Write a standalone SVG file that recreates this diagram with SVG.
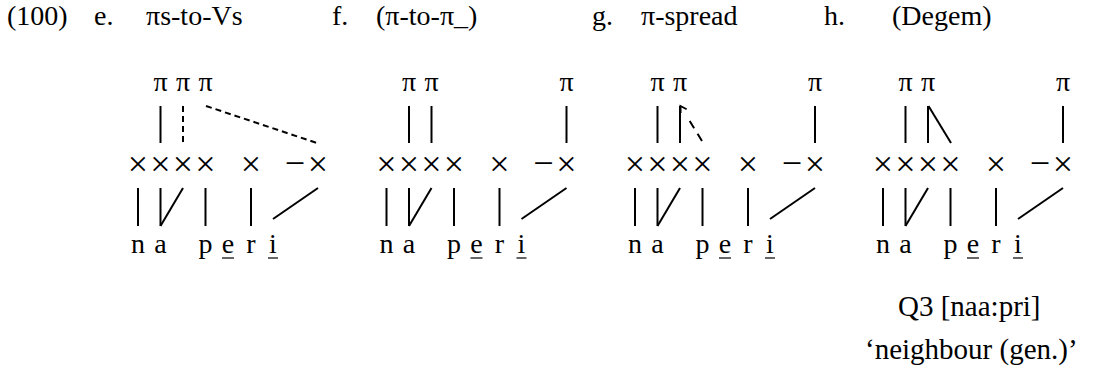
<svg xmlns="http://www.w3.org/2000/svg" width="1099" height="387" viewBox="0 0 1099 387">
<style>
  text { font-family: "Liberation Serif", "Times New Roman", serif; fill: #000; }
  .ti { font-size: 28px; }
  .gl { font-size: 29px; }
  .pi { font-size: 28px; text-anchor: middle; }
  .sg { font-size: 28px; text-anchor: middle; }
  .x { font-size: 36px; text-anchor: middle; }
  .ln { stroke: #000; stroke-width: 2; fill: none; stroke-linecap: butt; }
  .ds { stroke: #000; stroke-width: 2; fill: none; stroke-dasharray: 6 4; }
  .ul { stroke: #000; stroke-width: 1.2; }
</style>
<defs>
  <marker id="arr" viewBox="-8 -5 10 10" markerWidth="10" markerHeight="10" refX="0" refY="0" orient="auto" markerUnits="userSpaceOnUse">
    <path d="M-6,-3.5 L0,0 L-6,3.5" fill="none" stroke="#000" stroke-width="1.8"/>
  </marker>
</defs>
<rect width="1099" height="387" fill="#fff"/>

<g id="titles">
  <text class="ti" x="7" y="25">(100)</text>
  <text class="ti" x="94" y="25">e.</text>
  <text class="ti" x="146" y="25">πs-to-Vs</text>
  <text class="ti" x="332" y="25">f.</text>
  <text class="ti" x="376" y="25">(π-to-π_)</text>
  <text class="ti" x="592" y="25">g.</text>
  <text class="ti" x="641" y="25">π-spread</text>
  <text class="ti" x="824" y="25">h.</text>
  <text class="ti" x="892" y="25">(Degem)</text>
</g>

<!-- Panel e -->
<g id="panel-e" transform="translate(0 0)">
  <g id="e-pi">
    <text class="pi" x="160.5" y="91">π</text>
    <text class="pi" x="183" y="91">π</text>
    <text class="pi" x="205.5" y="91">π</text>
  </g>
  <g id="e-x">
    <text class="x" x="138" y="176">×</text>
    <text class="x" x="160.5" y="176">×</text>
    <text class="x" x="183" y="176">×</text>
    <text class="x" x="205.5" y="176">×</text>
    <text class="x" x="251" y="176">×</text>
    <text class="x" x="295" y="175">−</text>
    <text class="x" x="318" y="176">×</text>
  </g>
  <g id="e-seg">
    <text class="sg" x="138" y="253">n</text>
    <text class="sg" x="160.5" y="253">a</text>
    <text class="sg" x="205.5" y="253">p</text>
    <text class="sg" x="228" y="253">e</text>
    <text class="sg" x="251" y="253">r</text>
    <text class="sg" x="273" y="253">i</text>
    <line class="ul" x1="222" y1="258" x2="234" y2="258"/>
    <line class="ul" x1="268" y1="258" x2="278" y2="258"/>
  </g>
</g>

<!-- Panel f -->
<g id="panel-f" transform="translate(248.5 0)">
  <g id="f-pi">
    <text class="pi" x="160.5" y="91">π</text>
    <text class="pi" x="183" y="91">π</text>
    <text class="pi" x="318" y="91">π</text>
  </g>
  <g id="f-x">
    <text class="x" x="138" y="176">×</text>
    <text class="x" x="160.5" y="176">×</text>
    <text class="x" x="183" y="176">×</text>
    <text class="x" x="205.5" y="176">×</text>
    <text class="x" x="251" y="176">×</text>
    <text class="x" x="295" y="175">−</text>
    <text class="x" x="318" y="176">×</text>
  </g>
  <g id="f-seg">
    <text class="sg" x="138" y="253">n</text>
    <text class="sg" x="160.5" y="253">a</text>
    <text class="sg" x="205.5" y="253">p</text>
    <text class="sg" x="228" y="253">e</text>
    <text class="sg" x="251" y="253">r</text>
    <text class="sg" x="273" y="253">i</text>
    <line class="ul" x1="222" y1="258" x2="234" y2="258"/>
    <line class="ul" x1="268" y1="258" x2="278" y2="258"/>
  </g>
</g>

<!-- Panel g -->
<g id="panel-g" transform="translate(497 0)">
  <g id="g-pi">
    <text class="pi" x="160.5" y="91">π</text>
    <text class="pi" x="183" y="91">π</text>
    <text class="pi" x="318" y="91">π</text>
  </g>
  <g id="g-x">
    <text class="x" x="138" y="176">×</text>
    <text class="x" x="160.5" y="176">×</text>
    <text class="x" x="183" y="176">×</text>
    <text class="x" x="205.5" y="176">×</text>
    <text class="x" x="251" y="176">×</text>
    <text class="x" x="295" y="175">−</text>
    <text class="x" x="318" y="176">×</text>
  </g>
  <g id="g-seg">
    <text class="sg" x="138" y="253">n</text>
    <text class="sg" x="160.5" y="253">a</text>
    <text class="sg" x="205.5" y="253">p</text>
    <text class="sg" x="228" y="253">e</text>
    <text class="sg" x="251" y="253">r</text>
    <text class="sg" x="273" y="253">i</text>
    <line class="ul" x1="222" y1="258" x2="234" y2="258"/>
    <line class="ul" x1="268" y1="258" x2="278" y2="258"/>
  </g>
</g>

<!-- Panel h -->
<g id="panel-h" transform="translate(745 0)">
  <g id="h-pi">
    <text class="pi" x="160.5" y="91">π</text>
    <text class="pi" x="183" y="91">π</text>
    <text class="pi" x="318" y="91">π</text>
  </g>
  <g id="h-x">
    <text class="x" x="138" y="176">×</text>
    <text class="x" x="160.5" y="176">×</text>
    <text class="x" x="183" y="176">×</text>
    <text class="x" x="205.5" y="176">×</text>
    <text class="x" x="251" y="176">×</text>
    <text class="x" x="295" y="175">−</text>
    <text class="x" x="318" y="176">×</text>
  </g>
  <g id="h-seg">
    <text class="sg" x="138" y="253">n</text>
    <text class="sg" x="160.5" y="253">a</text>
    <text class="sg" x="205.5" y="253">p</text>
    <text class="sg" x="228" y="253">e</text>
    <text class="sg" x="251" y="253">r</text>
    <text class="sg" x="273" y="253">i</text>
    <line class="ul" x1="222" y1="258" x2="234" y2="258"/>
    <line class="ul" x1="268" y1="258" x2="278" y2="258"/>
  </g>
  <g id="h-gloss">
    <text class="gl" x="153" y="316">Q3 [naa:pri]</text>
    <text class="gl" x="120" y="359">‘neighbour (gen.)’</text>
  </g>
</g>

<g id="connectors">
  <g id="e-links" transform="translate(0 0)">
    <line class="ln" x1="160.5" y1="106" x2="160.5" y2="143"/>
    <line class="ds" x1="183" y1="106" x2="183" y2="143"/>
    <line class="ds" x1="206" y1="106" x2="317" y2="143"/>
    <line class="ln" x1="138" y1="188" x2="138" y2="226"/>
    <line class="ln" x1="160.5" y1="188" x2="160.5" y2="226"/>
    <line class="ln" x1="183" y1="188" x2="160.5" y2="226"/>
    <line class="ln" x1="205.5" y1="188" x2="205.5" y2="226"/>
    <line class="ln" x1="251" y1="188" x2="251" y2="226"/>
    <line class="ln" x1="318" y1="188" x2="273" y2="219"/>
  </g>
  <g id="f-links" transform="translate(248.5 0)">
    <line class="ln" x1="160.5" y1="106" x2="160.5" y2="143"/>
    <line class="ln" x1="183" y1="106" x2="183" y2="143"/>
    <line class="ln" x1="318" y1="106" x2="318" y2="143"/>
    <line class="ln" x1="138" y1="188" x2="138" y2="226"/>
    <line class="ln" x1="160.5" y1="188" x2="160.5" y2="226"/>
    <line class="ln" x1="183" y1="188" x2="160.5" y2="226"/>
    <line class="ln" x1="205.5" y1="188" x2="205.5" y2="226"/>
    <line class="ln" x1="251" y1="188" x2="251" y2="226"/>
    <line class="ln" x1="318" y1="188" x2="273" y2="219"/>
  </g>
  <g id="g-links" transform="translate(497 0)">
    <line class="ln" x1="160.5" y1="106" x2="160.5" y2="143"/>
    <line class="ln" x1="183" y1="106" x2="183" y2="143"/>
    <line class="ln" x1="205" y1="141" x2="183.5" y2="106" stroke-dasharray="8.5 6.5 8.5 100" marker-end="url(#arr)"/>
    <line class="ln" x1="318" y1="106" x2="318" y2="143"/>
    <line class="ln" x1="138" y1="188" x2="138" y2="226"/>
    <line class="ln" x1="160.5" y1="188" x2="160.5" y2="226"/>
    <line class="ln" x1="183" y1="188" x2="160.5" y2="226"/>
    <line class="ln" x1="205.5" y1="188" x2="205.5" y2="226"/>
    <line class="ln" x1="251" y1="188" x2="251" y2="226"/>
    <line class="ln" x1="318" y1="188" x2="273" y2="219"/>
  </g>
  <g id="h-links" transform="translate(745 0)">
    <line class="ln" x1="160.5" y1="106" x2="160.5" y2="143"/>
    <line class="ln" x1="183" y1="106" x2="183" y2="143"/>
    <line class="ln" x1="183.5" y1="106" x2="206" y2="143"/>
    <line class="ln" x1="318" y1="106" x2="318" y2="143"/>
    <line class="ln" x1="138" y1="188" x2="138" y2="226"/>
    <line class="ln" x1="160.5" y1="188" x2="160.5" y2="226"/>
    <line class="ln" x1="183" y1="188" x2="160.5" y2="226"/>
    <line class="ln" x1="205.5" y1="188" x2="205.5" y2="226"/>
    <line class="ln" x1="251" y1="188" x2="251" y2="226"/>
    <line class="ln" x1="318" y1="188" x2="273" y2="219"/>
  </g>
</g>
</svg>
